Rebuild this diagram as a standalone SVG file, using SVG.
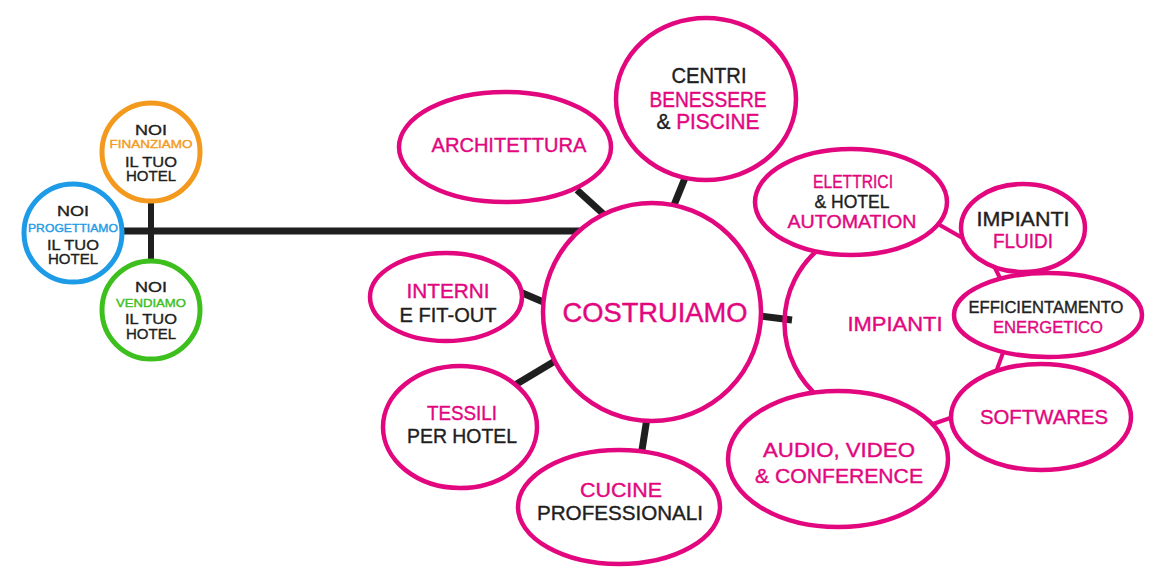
<svg xmlns="http://www.w3.org/2000/svg" width="1169" height="587" viewBox="0 0 1169 587">
<style>
text{font-family:"Liberation Sans","DejaVu Sans",sans-serif;text-anchor:middle;stroke-width:0.4}
.n{fill:#fff;stroke:#E2077F;stroke-width:4.5}
.p{fill:#E2077F;stroke:#E2077F}
.k{fill:#1f1f1f;stroke:#1f1f1f}
.o{fill:#F39A1E;stroke:#F39A1E}
.b{fill:#1E9BE6;stroke:#1E9BE6}
.g{fill:#3DBF1E;stroke:#3DBF1E}
.s{font-size:15.5px}
.c{stroke:#1f1f1f;stroke-width:7;fill:none}
.pc{stroke:#E2077F;stroke-width:4;fill:none}
</style>
<rect width="1169" height="587" fill="#fff"/>
<g id="connectors">
<line class="c" x1="73" y1="231" x2="600" y2="231"/>
<line class="c" x1="151" y1="152" x2="151" y2="310" style="stroke-width:6"/>
<line class="c" x1="577" y1="190" x2="610" y2="220"/>
<line class="c" x1="685" y1="178" x2="672" y2="210"/>
<line class="c" x1="520" y1="292" x2="548" y2="304"/>
<line class="c" x1="515" y1="385" x2="560" y2="358"/>
<line class="c" x1="647" y1="418" x2="642" y2="450"/>
<line class="c" x1="760" y1="316" x2="792" y2="320"/>
<line class="pc" x1="938" y1="224" x2="966" y2="240"/>
<line class="pc" x1="992" y1="262" x2="1001" y2="280"/>
<line class="pc" x1="1004" y1="350" x2="996" y2="372"/>
<line class="pc" x1="930" y1="425" x2="956" y2="416"/>
</g>
<g id="impianti">
<path d="M 820 248 A 97 97 0 0 0 820 398" fill="none" stroke="#E2077F" stroke-width="4.5"/>
<text x="895" y="331" font-size="21" class="p" textLength="95" lengthAdjust="spacingAndGlyphs">IMPIANTI</text>
</g>
<g id="finanziamo">
<circle cx="151" cy="152" r="49" fill="#fff" stroke="#F39A1E" stroke-width="5"/>
<text x="151" y="135" class="k s" textLength="32" lengthAdjust="spacingAndGlyphs">NOI</text>
<text x="151" y="148" font-size="11.5" class="o" textLength="83" lengthAdjust="spacingAndGlyphs">FINANZIAMO</text>
<text x="151" y="167" class="k s" textLength="52" lengthAdjust="spacingAndGlyphs">IL TUO</text>
<text x="151" y="181" class="k s" textLength="50" lengthAdjust="spacingAndGlyphs">HOTEL</text>
</g>
<g id="progettiamo">
<circle cx="73" cy="233" r="49" fill="#fff" stroke="#1E9BE6" stroke-width="5"/>
<text x="73" y="216" class="k s" textLength="32" lengthAdjust="spacingAndGlyphs">NOI</text>
<text x="73" y="232" font-size="11.5" class="b" textLength="90" lengthAdjust="spacingAndGlyphs">PROGETTIAMO</text>
<text x="73" y="250" class="k s" textLength="52" lengthAdjust="spacingAndGlyphs">IL TUO</text>
<text x="73" y="264" class="k s" textLength="50" lengthAdjust="spacingAndGlyphs">HOTEL</text>
</g>
<g id="vendiamo">
<circle cx="151" cy="310" r="49" fill="#fff" stroke="#3DBF1E" stroke-width="5"/>
<text x="151" y="292" class="k s" textLength="32" lengthAdjust="spacingAndGlyphs">NOI</text>
<text x="151" y="307" font-size="11.5" class="g" textLength="70" lengthAdjust="spacingAndGlyphs">VENDIAMO</text>
<text x="151" y="324" class="k s" textLength="52" lengthAdjust="spacingAndGlyphs">IL TUO</text>
<text x="151" y="339" class="k s" textLength="50" lengthAdjust="spacingAndGlyphs">HOTEL</text>
</g>
<g id="architettura">
<ellipse class="n" cx="505" cy="147" rx="106" ry="55"/>
<text x="509" y="152" font-size="21" class="p" textLength="155" lengthAdjust="spacingAndGlyphs">ARCHITETTURA</text>
</g>
<g id="centri">
<ellipse class="n" cx="706" cy="99" rx="90" ry="81"/>
<text x="709" y="83" font-size="21.5" class="k" textLength="75" lengthAdjust="spacingAndGlyphs">CENTRI</text>
<text x="708" y="107" font-size="21.5" class="p" textLength="117" lengthAdjust="spacingAndGlyphs">BENESSERE</text>
<text x="708" y="129" font-size="21.5" textLength="103" lengthAdjust="spacingAndGlyphs"><tspan class="k">&amp; </tspan><tspan class="p">PISCINE</tspan></text>
</g>
<g id="costruiamo">
<circle class="n" cx="652" cy="312" r="109"/>
<text x="655" y="322" font-size="28" class="p" textLength="185" lengthAdjust="spacingAndGlyphs">COSTRUIAMO</text>
</g>
<g id="interni">
<ellipse class="n" cx="446" cy="297" rx="76" ry="44"/>
<text x="448" y="298" font-size="21" class="p" textLength="83" lengthAdjust="spacingAndGlyphs">INTERNI</text>
<text x="448" y="322" font-size="21" class="k" textLength="97" lengthAdjust="spacingAndGlyphs">E FIT-OUT</text>
</g>
<g id="tessili">
<ellipse class="n" cx="460" cy="427" rx="77" ry="61"/>
<text x="462" y="420" font-size="21" class="p" textLength="70" lengthAdjust="spacingAndGlyphs">TESSILI</text>
<text x="462" y="443" font-size="21" class="k" textLength="110" lengthAdjust="spacingAndGlyphs">PER HOTEL</text>
</g>
<g id="cucine">
<ellipse class="n" cx="619" cy="507" rx="101" ry="57"/>
<text x="621" y="497" font-size="21" class="p" textLength="82" lengthAdjust="spacingAndGlyphs">CUCINE</text>
<text x="620" y="520" font-size="21" class="k" textLength="166" lengthAdjust="spacingAndGlyphs">PROFESSIONALI</text>
</g>
<g id="elettrici">
<ellipse class="n" cx="851" cy="202" rx="96" ry="53"/>
<text x="853" y="188" font-size="18" class="p" textLength="80" lengthAdjust="spacingAndGlyphs">ELETTRICI</text>
<text x="852" y="208" font-size="18" class="k" textLength="75" lengthAdjust="spacingAndGlyphs">&amp; HOTEL</text>
<text x="852" y="228" font-size="18" class="p" textLength="129" lengthAdjust="spacingAndGlyphs">AUTOMATION</text>
</g>
<g id="fluidi">
<ellipse class="n" cx="1023" cy="228" rx="62" ry="44"/>
<text x="1023" y="226" font-size="20" class="k" textLength="93" lengthAdjust="spacingAndGlyphs">IMPIANTI</text>
<text x="1023" y="248" font-size="20" class="p" textLength="60" lengthAdjust="spacingAndGlyphs">FLUIDI</text>
</g>
<g id="efficientamento">
<ellipse class="n" cx="1048" cy="315" rx="94" ry="42"/>
<text x="1046" y="313" font-size="17" class="k" textLength="155" lengthAdjust="spacingAndGlyphs">EFFICIENTAMENTO</text>
<text x="1048" y="333" font-size="17" class="p" textLength="110" lengthAdjust="spacingAndGlyphs">ENERGETICO</text>
</g>
<g id="softwares">
<ellipse class="n" cx="1041" cy="417" rx="90" ry="53"/>
<text x="1044" y="424" font-size="21" class="p" textLength="128" lengthAdjust="spacingAndGlyphs">SOFTWARES</text>
</g>
<g id="audio">
<ellipse class="n" cx="838" cy="459" rx="110" ry="68"/>
<text x="839" y="457" font-size="21" class="p" textLength="152" lengthAdjust="spacingAndGlyphs">AUDIO, VIDEO</text>
<text x="839" y="483" font-size="21" class="p" textLength="168" lengthAdjust="spacingAndGlyphs">&amp; CONFERENCE</text>
</g>
</svg>
